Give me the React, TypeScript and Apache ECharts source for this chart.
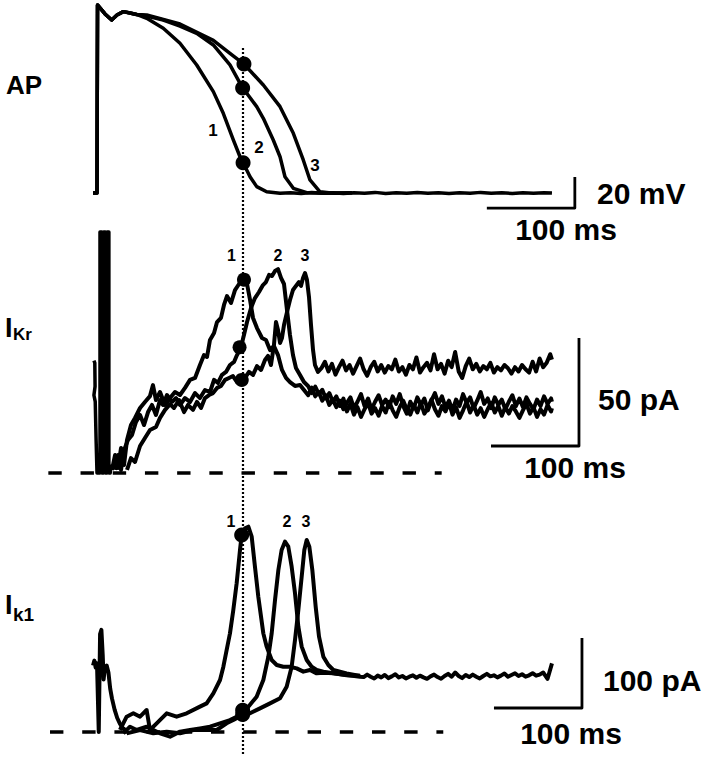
import React, { useEffect, useRef } from 'react';
import * as echarts from 'echarts';

// ---------- time axis (ms) shared by all panels ----------
const timeMin = -60;
const timeMax = 560;

// ---------- AP panel (ms, mV) ----------
const apOnset: number[][] = [[-4.5, -85], [0, -85], [0.6, 36.3], [3.4, 34.4], [9.1, 30.5], [16.7, 26.6], [22.7, 29.8], [29.9, 32.0], [37.5, 31.1], [45, 30.2]];
const apTrace1: number[][] = [[56.5, 27.7], [75.3, 21.3], [94.3, 11.6], [113.3, -2.4], [132.2, -19.6], [143.5, -33.6], [154.9, -50.8], [162.5, -61.6], [166.3, -65.8], [173.9, -74.5], [181.5, -80.9], [192.8, -84.2], [208, -85.2], [220, -84.8], [232, -85.3], [244, -84.7], [256, -85.2], [268, -84.9], [280, -85.4], [292, -84.8], [304, -85.1], [316, -84.6], [328, -85.3], [340, -84.9], [352, -85.2], [364, -84.7], [376, -85.1], [388, -84.8], [400, -85.3], [412, -84.9], [424, -85.2], [436, -84.6], [448, -85.1], [460, -84.8], [472, -85.3], [484, -84.9], [496, -85.1], [508, -84.8], [517, -85.0]];
const apTrace2: number[][] = [[56.5, 29.2], [75.3, 26.6], [94.3, 22.7], [113.3, 18.0], [132.2, 10.5], [151.1, -2.4], [165.1, -16.8], [181.5, -29.3], [189, -36.8], [200.3, -50.8], [208, -61.6], [213.6, -74.5], [223.1, -82.0], [238.3, -84.8], [260, -85.1], [290, -84.8]];
const apTrace3: number[][] = [[56.5, 29.8], [94.3, 24.0], [132.2, 13.5], [151.1, 5.1], [167, -1.8], [189, -15.3], [208, -29.3], [223.1, -46.5], [234.4, -63.7], [242, -76.6], [253.4, -84.2], [268.5, -85.2], [290, -84.9]];
const apDots: number[][] = [[166, -65.5], [165.5, -17.2], [167, -1.8]];
const apScaleBar: number[][] = [[443, -94.7], [543, -94.7], [543, -74.7]]; // 100 ms, 20 mV

// ---------- IKr panel (ms, pA) ----------
const ikrArtifact: number[][] = [[-3.5, 52], [-2.5, 51], [-2.2, 40], [-3.5, 36], [-2, 33], [-1, 15], [0, 0], [3.4, 0], [3.4, 111.6], [5.5, 111.6], [5.5, 0], [7.5, 0], [7.5, 111.6], [9.5, 111.6], [9.5, 0], [11.5, 0], [11.5, 111.6], [13.5, 111.6], [13.5, 0], [15, 0], [16, 4]];
const ikrTrace1: number[][] = [[17.0, 1.4], [20.5, 8.3], [23.9, 2.3], [27.3, 11.6], [30.7, 3.7], [34.1, 15.3], [38.6, 22.2], [43.2, 25.5], [48.9, 30.1], [54.5, 32.9], [60.2, 35.6], [63.6, 40.7], [67.0, 33.8], [71.6, 37.5], [77.3, 31.5], [83.0, 34.7], [88.6, 37.5], [94.3, 36.1], [100.0, 39.4], [105.7, 43.1], [111.4, 44.0], [117.0, 50.0], [121.6, 54.6], [125.0, 53.7], [128.4, 61.6], [133.0, 64.8], [136.4, 69.9], [140.9, 71.8], [144.3, 77.8], [147.7, 81.9], [152.3, 78.7], [156.8, 84.7], [161.4, 87.5], [165.9, 89.8], [170.5, 87.5], [173.9, 80.1], [177.3, 71.8], [181.8, 67.1], [187.5, 62.5], [192.0, 61.6], [196.6, 56.9], [201.1, 58.8], [205.7, 54.6], [210.2, 47.7], [214.8, 44.0], [219.3, 42.1], [225.0, 40.3], [230.7, 40.7], [235, 38.5], [240, 36.0], [244, 39.5], [248, 35.5], [252, 37.5], [256, 33.5], [260, 36.0], [264, 31.5], [268, 34.0], [272, 30.5], [276, 33.5], [280, 29.5], [284, 32.5], [288, 35.0], [292, 30.0], [296, 33.0], [300, 36.5], [304, 31.0], [308, 34.5], [312, 29.5], [316, 33.0], [320, 36.0], [324, 31.5], [328, 34.0], [332, 30.5], [336, 35.5], [340, 32.0], [344, 36.5], [348, 31.0], [352, 27.5], [356, 33.0], [360, 30.0], [364, 35.0], [368, 31.5], [372, 34.5], [376, 29.0], [380, 33.5], [384, 37.0], [388, 32.0], [392, 35.5], [396, 30.5], [400, 33.5], [404, 29.0], [408, 34.0], [412, 31.0], [416, 36.5], [420, 32.5], [424, 35.0], [428, 30.0], [432, 33.5], [436, 37.5], [440, 32.0], [444, 34.5], [448, 30.0], [452, 35.0], [456, 31.5], [460, 34.0], [464, 29.5], [468, 33.0], [472, 36.0], [476, 31.0], [480, 34.5], [484, 30.5], [488, 35.0], [492, 32.0], [496, 29.5], [500, 34.0], [504, 31.0], [508, 35.5], [512, 32.0], [516, 34.5], [517, 33.0]];
const ikrTrace2: number[][] = [[20.5, 1.4], [23.9, 8.3], [27.3, 1.4], [30.7, 10.6], [35.2, 15.3], [39.8, 17.6], [44.3, 23.6], [48.9, 26.9], [53.4, 22.2], [58.0, 28.2], [62.5, 31.5], [67.0, 26.9], [71.6, 33.8], [75.0, 31.5], [79.5, 36.1], [85.2, 32.9], [89.8, 34.7], [94.3, 31.5], [100.0, 34.7], [105.7, 32.9], [111.4, 37.0], [117.0, 34.7], [122.7, 38.4], [128.4, 37.5], [133.0, 43.1], [137.5, 41.7], [142.0, 45.4], [146.6, 46.8], [151.1, 50.0], [155.7, 51.4], [159.1, 54.6], [163.6, 58.3], [167.0, 63.9], [170.5, 69.9], [175.0, 76.4], [179.5, 81.0], [184.1, 83.8], [188.6, 87.0], [192.0, 88.4], [195.5, 91.7], [198.9, 91.2], [202.3, 93.5], [205.7, 94.4], [209.1, 90.3], [212.5, 87.5], [215.9, 75.5], [219.3, 63.9], [222.7, 54.6], [226.1, 48.6], [230.7, 45.4], [235.2, 42.1], [239.8, 40.3], [244, 37.0], [248, 40.0], [252, 36.5], [256, 38.5], [260, 34.5], [264, 37.0], [268, 33.0], [272, 35.5], [276, 31.0], [280, 34.5], [284, 28.5], [288, 32.0], [292, 27.0], [296, 30.5], [300, 26.0], [304, 29.5], [308, 32.5], [312, 27.5], [316, 30.0], [320, 26.5], [324, 31.0], [328, 28.0], [332, 33.0], [336, 29.0], [340, 26.0], [344, 30.5], [348, 33.5], [352, 29.5], [356, 27.0], [360, 31.5], [364, 28.0], [368, 32.5], [372, 27.5], [376, 30.0], [380, 34.0], [384, 29.5], [388, 26.5], [392, 31.0], [396, 28.5], [400, 32.5], [404, 27.0], [408, 30.5], [412, 25.5], [416, 29.0], [420, 33.0], [424, 28.0], [428, 31.5], [432, 27.0], [436, 30.0], [440, 26.0], [444, 29.5], [448, 32.5], [452, 28.0], [456, 31.0], [460, 26.5], [464, 30.5], [468, 27.5], [472, 31.0], [476, 28.5], [480, 25.5], [484, 29.0], [488, 32.0], [492, 27.5], [496, 30.5], [500, 26.0], [504, 29.5], [508, 27.0], [512, 31.5], [516, 28.5], [517, 30.0]];
const ikrTrace3: number[][] = [[34.1, 1.4], [38.6, 6.9], [43.2, 5.1], [48.9, 12.5], [54.5, 16.2], [60.2, 19.9], [67.0, 21.3], [71.6, 25.5], [77.3, 29.2], [83.0, 31.9], [87.5, 30.1], [93.2, 33.8], [98.9, 28.2], [103.4, 31.5], [109.1, 29.2], [113.6, 32.9], [118.2, 30.1], [122.7, 34.7], [127.3, 36.1], [131.8, 37.0], [136.4, 39.4], [140.9, 40.3], [145.5, 43.1], [150.0, 44.0], [154.5, 44.9], [159.1, 42.1], [163.6, 43.1], [168.2, 44.0], [172.7, 46.8], [177.3, 45.4], [181.8, 49.5], [186.4, 47.7], [190.9, 52.3], [194.3, 54.2], [197.7, 50.0], [201.1, 59.3], [203.4, 69.9], [205.7, 66.2], [208.0, 60.2], [210.2, 62.5], [212.5, 68.5], [215.9, 74.5], [219.3, 80.1], [222.7, 84.7], [226.1, 86.6], [229.5, 88.4], [231.8, 86.6], [234.1, 90.3], [236.4, 92.6], [238.6, 89.4], [240.9, 81.5], [243.2, 68.5], [245.5, 56.9], [247.7, 50.0], [251.1, 46.8], [255, 48.5], [259, 51.5], [263, 47.0], [267, 50.5], [271, 45.5], [275, 49.0], [279, 52.0], [283, 47.5], [287, 50.0], [291, 46.0], [295, 49.5], [299, 53.0], [303, 48.0], [307, 45.0], [311, 49.0], [315, 51.5], [319, 47.0], [323, 50.0], [327, 46.5], [331, 49.5], [335, 48.0], [339, 52.5], [343, 47.0], [347, 49.0], [351, 45.5], [355, 50.0], [359, 48.0], [363, 53.5], [367, 46.5], [371, 49.0], [375, 51.0], [379, 47.5], [383, 55.0], [387, 48.0], [391, 50.5], [395, 46.0], [399, 52.0], [403, 49.0], [407, 56.0], [411, 47.0], [415, 44.0], [419, 49.5], [423, 53.0], [427, 48.0], [431, 50.5], [435, 47.0], [439, 49.5], [443, 48.0], [447, 51.0], [451, 46.5], [455, 49.0], [459, 47.5], [463, 50.0], [467, 48.5], [471, 46.0], [475, 49.0], [479, 47.0], [483, 50.0], [487, 48.0], [491, 46.5], [495, 51.5], [499, 47.0], [503, 53.0], [507, 49.0], [511, 51.0], [515, 55.0], [517, 52.5]];
const ikrDots: number[][] = [[167, 89.5], [162, 58.2], [164.5, 43.1]];
const ikrBaseline: number[][] = [[-55.3, 0], [391.7, 0]];
const ikrScaleBar: number[][] = [[447.7, 12.5], [547.7, 12.5], [547.7, 62.5]]; // 100 ms, 50 pA

// ---------- IK1 panel (ms, pA) ----------
const ik1Artifact: number[][] = [[-4.5, 95], [-3, 102], [-1.5, 92], [0, 98], [2, 0], [3.5, 140], [5, 146], [6.5, 110], [7.5, 75], [9, 92], [11, 95], [13, 85], [15, 62], [17, 48], [20, 32], [23, 20], [26, 12], [29, 6], [32, 3]];
const ik1Trace1: number[][] = [[26.1, 2.9], [33.7, 21.9], [41.3, 26.7], [48.9, 21.9], [56.4, 31.4], [60.2, 2.9], [67.8, 12.4], [79.2, 26.7], [90.5, 21.9], [101.9, 26.7], [117.0, 36.2], [124.6, 40.9], [132.2, 55.2], [139.8, 74.3], [143.6, 93.3], [147.3, 117.1], [151.1, 140.9], [154.9, 174.3], [158.7, 212.4], [162.5, 260.0], [164.4, 281.4], [168.2, 290.9], [172.0, 293.3], [175.8, 279.0], [179.5, 236.2], [183.3, 193.3], [189.0, 140.9], [192.8, 121.9], [198.5, 102.8], [204.2, 95.7], [211.7, 93.3], [219.3, 93.3], [226.9, 90.9], [234.5, 86.2], [242.0, 88.6], [249.6, 83.8], [257.2, 84.8], [268.6, 83.8], [283.7, 81.4], [298.9, 79.0], [303, 78.5], [307, 82.0], [311, 79.0], [315, 76.5], [319, 80.5], [323, 78.0], [327, 81.5], [331, 77.0], [335, 79.5], [339, 82.5], [343, 78.0], [347, 80.0], [351, 76.5], [355, 79.0], [359, 81.0], [363, 77.5], [367, 80.5], [371, 78.0], [375, 76.0], [379, 79.5], [383, 82.0], [387, 78.5], [391, 76.0], [395, 80.0], [399, 83.0], [403, 79.0], [407, 85.0], [411, 80.0], [415, 77.0], [419, 81.5], [423, 78.5], [427, 82.0], [431, 79.0], [435, 76.5], [439, 80.0], [443, 83.0], [447, 79.5], [451, 81.0], [455, 78.0], [459, 80.5], [463, 83.5], [467, 79.0], [471, 81.5], [475, 84.0], [479, 80.0], [483, 82.5], [487, 79.0], [491, 81.0], [495, 84.0], [499, 80.5], [503, 82.0], [507, 85.0], [512, 76.0], [517, 98.0]];
const ik1Trace2: number[][] = [[29.9, -1.9], [37.5, 7.6], [45.1, 2.9], [56.4, 7.6], [64.0, 2.9], [71.6, -1.9], [83.0, -6.7], [94.3, 0.5], [105.7, 2.9], [117.0, 5.2], [128.4, 7.6], [139.8, 12.4], [151.1, 17.1], [158.7, 21.9], [165.5, 31.4], [172.0, 36.2], [181.4, 50.5], [189.0, 74.3], [194.7, 107.6], [198.5, 140.9], [202.3, 188.6], [206.1, 231.4], [209.8, 260.0], [213.6, 271.9], [217.4, 264.7], [221.2, 236.2], [225.0, 198.1], [228.8, 150.5], [232.6, 121.9], [238.3, 102.8], [243.9, 93.3], [249.6, 88.6], [257.2, 86.2], [268.6, 83.8], [283.7, 81.0], [299, 80.5]];
const ik1Trace3: number[][] = [[33.7, -1.9], [48.9, 2.9], [64.0, -1.9], [79.2, 0.5], [94.3, -1.9], [109.5, 2.9], [124.6, 2.9], [136.0, 2.9], [147.3, 12.4], [154.9, 17.1], [165.5, 24.3], [173.9, 26.7], [185.2, 33.8], [196.6, 40.9], [208.0, 48.1], [215.5, 64.7], [221.2, 93.3], [225.0, 131.4], [228.8, 174.3], [232.6, 221.9], [235.6, 260.0], [238.3, 274.3], [241.3, 264.7], [244.7, 231.4], [248.5, 179.0], [252.3, 136.2], [257.2, 107.6], [262.9, 95.7], [268.6, 88.6], [276.1, 86.2], [283.7, 83.8], [298.9, 80.0]];
const ik1Dots: number[][] = [[164.4, 281.4], [165.5, 31.0], [165.5, 25.0]];
const ik1Baseline: number[][] = [[-53.4, 0], [393.5, 0]];
const ik1ScaleBar: number[][] = [[451.1, 34.3], [551.1, 34.3], [551.1, 134.3]]; // 100 ms, 100 pA

// ---------- vertical dotted time marker (overlay: ms, page row) ----------
const markerTime = 165.9;
const markerSpan: number[][] = [[markerTime, 48], [markerTime, 756]];

const FONT = '"Liberation Sans", Arial, Helvetica, sans-serif';

function line(data: number[][], gi: number, width: number, extra: any = {}) {
  return {
    type: 'line',
    xAxisIndex: gi,
    yAxisIndex: gi,
    data,
    symbol: 'none',
    showSymbol: false,
    silent: true,
    lineStyle: { color: '#000', width, opacity: 1, join: 'round', cap: 'butt', ...(extra.lineStyle || {}) },
    z: extra.z ?? 2,
  };
}

function dots(data: number[][], gi: number, size: number) {
  return {
    type: 'scatter',
    xAxisIndex: gi,
    yAxisIndex: gi,
    data,
    symbol: 'circle',
    symbolSize: size,
    silent: true,
    itemStyle: { color: '#000', opacity: 1 },
    z: 5,
  };
}

function txt(text: string, x: number, y: number, size: number, align = 'center') {
  return {
    type: 'text',
    x,
    y,
    silent: true,
    style: {
      text,
      fill: '#000',
      font: `bold ${size}px ${FONT}`,
      fontFamily: FONT,
      fontSize: size,
      fontWeight: 'bold',
      align,
      verticalAlign: 'middle',
    },
  };
}

export default function App() {
  const ref = useRef<HTMLDivElement>(null);

  useEffect(() => {
    if (!ref.current) return;
    const chart = echarts.init(ref.current, null, { renderer: 'svg' });
    const gridLeft = 44.2;
    const gridWidth = 545.6;
    const xAxis = [0, 1, 2, 3].map((i) => ({ gridIndex: i, type: 'value', min: timeMin, max: timeMax, show: false }));
    const option: any = {
      animation: false,
      backgroundColor: '#fff',
      grid: [
        { left: gridLeft, width: gridWidth, top: 2.35, height: 213.9 },
        { left: gridLeft, width: gridWidth, top: 224.6, height: 259.2 },
        { left: gridLeft, width: gridWidth, top: 501, height: 248.5 },
        { left: gridLeft, width: gridWidth, top: 0, height: 758 },
      ],
      xAxis,
      yAxis: [
        { gridIndex: 0, type: 'value', min: -100, max: 38, show: false },
        { gridIndex: 1, type: 'value', min: -5, max: 115, show: false },
        { gridIndex: 2, type: 'value', min: -25, max: 330, show: false },
        { gridIndex: 3, type: 'value', min: 0, max: 758, inverse: true, show: false },
      ],
      series: [
        // AP
        line([...apOnset, ...apTrace1], 0, 3.5),
        line([...apOnset, ...apTrace2], 0, 3.5),
        line([...apOnset, ...apTrace3], 0, 3.5),
        dots(apDots, 0, 15),
        line(apScaleBar, 0, 2.8),
        // IKr
        line(ikrBaseline, 1, 3.5, { lineStyle: { type: [13.4, 18.8] }, z: 1 }),
        line(ikrArtifact, 1, 3.5),
        line(ikrTrace1, 1, 4),
        line(ikrTrace2, 1, 4),
        line(ikrTrace3, 1, 4),
        dots(ikrDots, 1, 14),
        line(ikrScaleBar, 1, 2.8),
        // IK1
        line(ik1Baseline, 2, 3.5, { lineStyle: { type: [13.4, 18.8] }, z: 1 }),
        line(ik1Artifact, 2, 4),
        line(ik1Trace1, 2, 4),
        line(ik1Trace2, 2, 4),
        line(ik1Trace3, 2, 4),
        dots(ik1Dots, 2, 15),
        line(ik1ScaleBar, 2, 2.8),
        // dotted marker
        line(markerSpan, 3, 2.2, { lineStyle: { type: [2, 2] }, z: 6 }),
      ],
      graphic: [
        txt('AP', 24, 85, 26),
        txt('I', 5, 327.5, 27, 'left'),
        txt('Kr', 13, 334, 17, 'left'),
        txt('I', 5, 605, 27, 'left'),
        txt('k1', 13, 614, 19, 'left'),
        txt('1', 213, 130, 17),
        txt('2', 259, 147, 17),
        txt('3', 315, 165, 17),
        txt('1', 231.5, 255, 16),
        txt('2', 278, 255, 16),
        txt('3', 305, 255, 16),
        txt('1', 231, 521, 16),
        txt('2', 287, 521, 16),
        txt('3', 306, 521, 16),
        txt('20 mV', 597, 193, 30, 'left'),
        txt('100 ms', 566, 229, 30),
        txt('50 pA', 598, 399, 30, 'left'),
        txt('100 ms', 575, 467, 30),
        txt('100 pA', 603, 680, 30, 'left'),
        txt('100 ms', 571, 733, 30),
      ],
    };
    chart.setOption(option);
    return () => chart.dispose();
  }, []);

  return (
    <div
      ref={ref}
      style={{ position: 'fixed', left: 0, top: 0, width: 709, height: 758, background: '#fff' }}
    />
  );
}
